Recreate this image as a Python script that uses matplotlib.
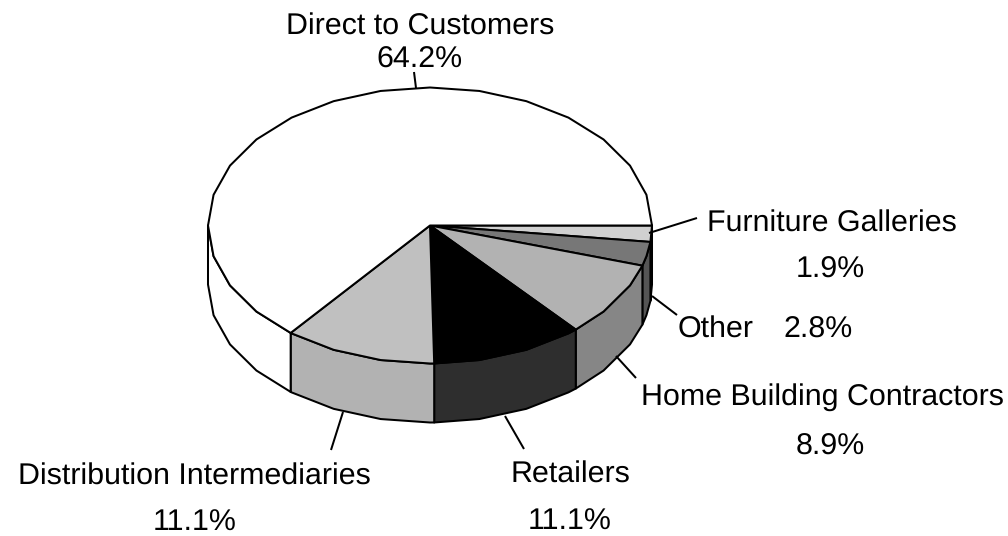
import numpy as np
import matplotlib
matplotlib.use('Agg')
import matplotlib.pyplot as plt

plt.rcParams['font.family'] = ['Liberation Sans', 'DejaVu Sans']
plt.rcParams['text.hinting'] = 'no_hinting'

# clockwise from east, as in the original
SEGMENTS = ['Furniture Galleries', 'Other', 'Home Building Contractors', 'Retailers',
            'Distribution Intermediaries', 'Direct to Customers']
SHARES = [1.9, 2.8, 8.9, 11.1, 11.1, 64.2]
TOP_COLORS = ['#d0d0d0', '#777777', '#b2b2b2', '#000000', '#c0c0c0', '#ffffff']
SIDE_COLORS = ['#000000', '#555555', '#868686', '#2e2e2e', '#b2b2b2', '#ffffff']

CX, CY = 430, 225.5
RX, RY = 222, 138
DEPTH = 59
STEP = 360 / 28
LW = 1.45

LEADERS = [((414, 72), (416, 88)), ((649, 233), (697, 218)), ((652, 296), (677, 315)),
           ((616, 356), (636, 378)), ((343, 412), (331, 450)), ((505, 416), (524, 449))]
LABELS = [('Direct to Customers', 420, 26, 'center'), ('64.2%', 420, 59, 'center'),
          ('Furniture Galleries', 707, 223, 'left'), ('1.9%', 830, 269, 'center'),
          ('Other', 678, 329, 'left'), ('2.8%', 818, 329, 'center'),
          ('Home Building Contractors', 641, 396, 'left'), ('8.9%', 830, 446, 'center'),
          ('Distribution Intermediaries', 18, 476, 'left'), ('11.1%', 195, 521, 'center'),
          ('Retailers', 570, 474, 'center'), ('11.1%', 570, 520, 'center')]


def rim(a0, a1):
    # coarse polygon edge like the original renderer
    inner = np.arange(np.ceil(a0 / STEP), np.floor(a1 / STEP) + 1) * STEP
    angles = np.unique(np.concatenate([[a0], inner, [a1]]))
    rad = np.radians(angles)
    return CX + RX * np.cos(rad), CY + RY * np.sin(rad)


fig = plt.figure(figsize=(10.08, 5.36), dpi=100)
ax = fig.add_axes([0, 0, 1, 1])
ax.set_xlim(0, 1008)
ax.set_ylim(536, 0)
ax.axis('off')

edges = np.concatenate([[0], np.cumsum(SHARES)]) / sum(SHARES) * 360

# side walls, only the front half shows
for i in range(len(SHARES)):
    a0, a1 = edges[i], min(edges[i + 1], 180)
    if a0 >= 180:
        continue
    x, y = rim(a0, a1)
    px = np.concatenate([x, x[::-1]])
    py = np.concatenate([y, y[::-1] + DEPTH])
    ax.fill(px, py, facecolor=SIDE_COLORS[i], edgecolor='black', lw=LW, joinstyle='round')

# top faces
for i in range(len(SHARES)):
    x, y = rim(edges[i], edges[i + 1])
    px = np.concatenate([[CX], x])
    py = np.concatenate([[CY], y])
    ax.fill(px, py, facecolor=TOP_COLORS[i], edgecolor='black', lw=LW, joinstyle='round')

for (x0, y0), (x1, y1) in LEADERS:
    ax.plot([x0, x1], [y0, y1], color='black', lw=LW, solid_capstyle='butt')

for text, x, y, ha in LABELS:
    ax.text(x, y + 1, text, ha=ha, va='center', fontsize=21.9, color='black')

fig.savefig('out.png', dpi=100)
